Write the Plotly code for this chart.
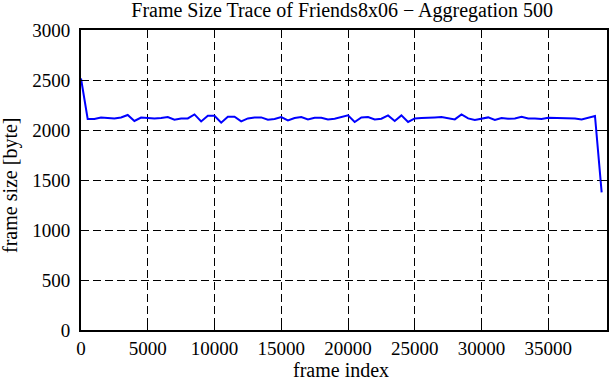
import plotly.graph_objects as go

# aggregated frame index (aggregation 500)
frame_index = list(range(0, 39001, 500))
frame_size = [
    2515, 2110, 2110, 2125, 2120, 2115, 2125, 2150, 2090, 2125,
    2120, 2116, 2120, 2130, 2103, 2116, 2116, 2156, 2086, 2143,
    2143, 2073, 2133, 2133, 2086, 2116, 2126, 2126, 2103, 2110,
    2130, 2096, 2120, 2130, 2106, 2123, 2123, 2106, 2113, 2126,
    2146, 2080, 2126, 2130, 2106, 2113, 2146, 2090, 2146, 2080,
    2116, 2120, 2126, 2126, 2130, 2120, 2106, 2156, 2116, 2100,
    2110, 2126, 2100, 2120, 2113, 2116, 2133, 2116, 2116, 2110,
    2123, 2120, 2116, 2120, 2116, 2106, 2120, 2140, 1376,
]

x_ticks = [0, 5000, 10000, 15000, 20000, 25000, 30000, 35000]
x_tick_labels = ["0", "5000", "10000", "15000", "20000", "25000", "30000", "35000"]
y_ticks = [0, 500, 1000, 1500, 2000, 2500, 3000]
y_tick_labels = ["0", "500", "1000", "1500", "2000", "2500", "3000"]

font = "Liberation Serif, Times New Roman, serif"

fig = go.Figure()
fig.add_trace(go.Scatter(
    x=frame_index, y=frame_size, mode="lines",
    line=dict(color="#0000ff", width=2), showlegend=False,
    hoverinfo="skip",
))

axis_common = dict(
    showline=True, linecolor="black", linewidth=2, mirror="ticks",
    ticks="inside", ticklen=6, tickwidth=1, tickcolor="black",
    showgrid=True, gridcolor="black", gridwidth=1, griddash="8px,4px",
    zeroline=False, tickfont=dict(family=font, size=19, color="black"),
)

fig.update_layout(
    width=611, height=380,
    margin=dict(l=81, r=2, t=30, b=50),
    paper_bgcolor="white", plot_bgcolor="white",
    font=dict(family=font, size=19, color="black"),
    title=dict(text="Frame Size Trace of Friends8x06 − Aggregation 500",
               x=0.56, xanchor="center", y=0.974, yanchor="middle",
               font=dict(family=font, size=20, color="black")),
    xaxis=dict(range=[0, 39400], tickvals=x_ticks, ticktext=x_tick_labels,
               **axis_common),
    yaxis=dict(range=[0, 3000], tickvals=y_ticks, ticktext=y_tick_labels,
               ticklabelstandoff=5, **axis_common),
    annotations=[
        dict(text="frame index", xref="paper", yref="paper", x=0.495, y=0,
             xanchor="center", yanchor="middle", yshift=-40, showarrow=False,
             font=dict(family=font, size=20, color="black")),
        dict(text="frame size [byte]", xref="paper", yref="paper", x=0, y=0.48,
             xanchor="center", yanchor="middle", xshift=-71, textangle=-90,
             showarrow=False, font=dict(family=font, size=20, color="black")),
    ],
)

fig.write_html("out.html", config={"displayModeBar": False},
               post_script="document.body.style.margin='0';")
